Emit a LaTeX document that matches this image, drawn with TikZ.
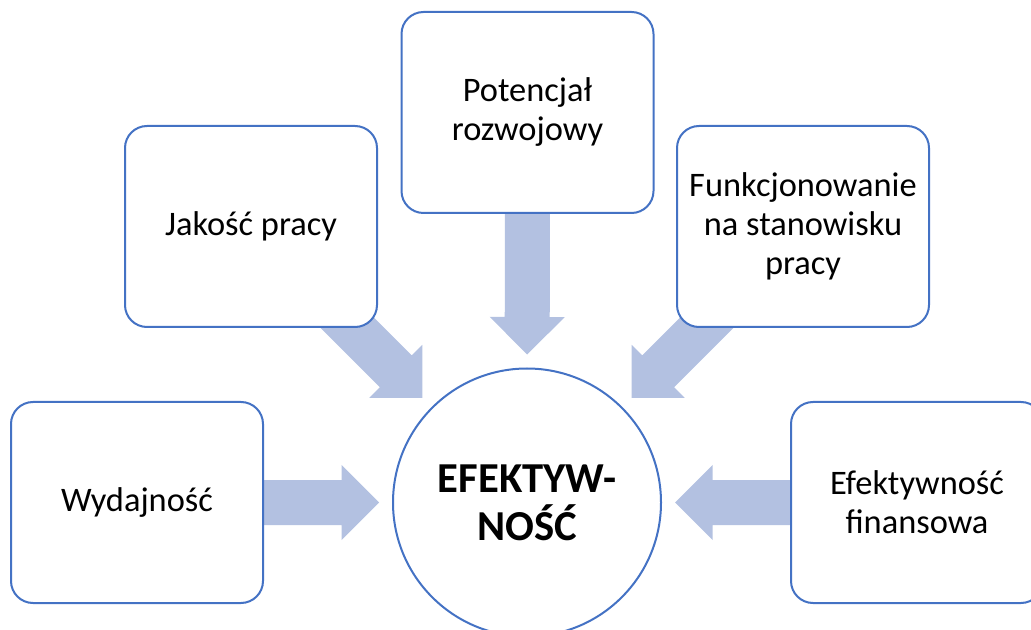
\documentclass[tikz,border=0pt]{standalone}
\usepackage{fontspec}
\setmainfont{Carlito}
\usetikzlibrary{calc}
\definecolor{boxline}{RGB}{68,114,196}
\definecolor{arrowfill}{RGB}{179,193,225}
\tikzset{
  box/.style={draw=boxline, line width=1.5pt, fill=white, rounded corners=16.5pt,
    minimum width=189pt, minimum height=150.75pt, inner sep=0pt, align=center,
    font=\fontsize{25.8}{29.25}\selectfont},
  hub/.style={draw=boxline, line width=1.5pt, fill=white, circle, minimum size=201pt,
    inner sep=0pt, align=center, font=\fontsize{32}{36}\selectfont\bfseries},
  fat/.style={fill=arrowfill}
}
\newcommand{\fatarrow}[2]{%
  \path ($(#2)!111pt!(#1)$) coordinate (tp)
        ($(tp)!28.125pt!(#1)$) coordinate (hb);
  \fill[fat] ($(#1)!16.875pt!90:(tp)$) -- ($(hb)!16.875pt!-90:(#1)$)
    -- ($(hb)!28.125pt!-90:(#1)$) -- (tp) -- ($(hb)!28.125pt!90:(#1)$)
    -- ($(hb)!16.875pt!90:(#1)$) -- ($(#1)!16.875pt!-90:(tp)$) -- cycle;
}
\begin{document}
\begin{tikzpicture}[x=0.75pt,y=-0.75pt]
\useasboundingbox (0,0) rectangle (1031,630);
\clip (0,0) rectangle (1031,630);
% anchor coordinates
\coordinate (cc) at (527,502.5);
\coordinate (pA) at (527.5,112.5);
\coordinate (pB) at (251,226.5);
\coordinate (pC) at (803,226.5);
\coordinate (pD) at (137,502.5);
\coordinate (pE) at (917,502.5);
% arrows (behind)
\fatarrow{pA}{cc}
\fatarrow{pB}{cc}
\fatarrow{pC}{cc}
\fatarrow{pD}{cc}
\fatarrow{pE}{cc}
% boxes
\node[box] (rozw) at (pA) {Potencjał\\rozwojowy};
\node[box] (jak) at (pB) {Jakość pracy};
\node[box] (funk) at (pC) {Funkcjonowanie\\na stanowisku\\pracy};
\node[box] (wyd) at (pD) {Wydajność};
\node[box] (fin) at (pE) {Efektywność\\finansowa};
\node[hub] (ef) at (cc) {EFEKTYW-\\NOŚĆ};
\end{tikzpicture}
\end{document}
